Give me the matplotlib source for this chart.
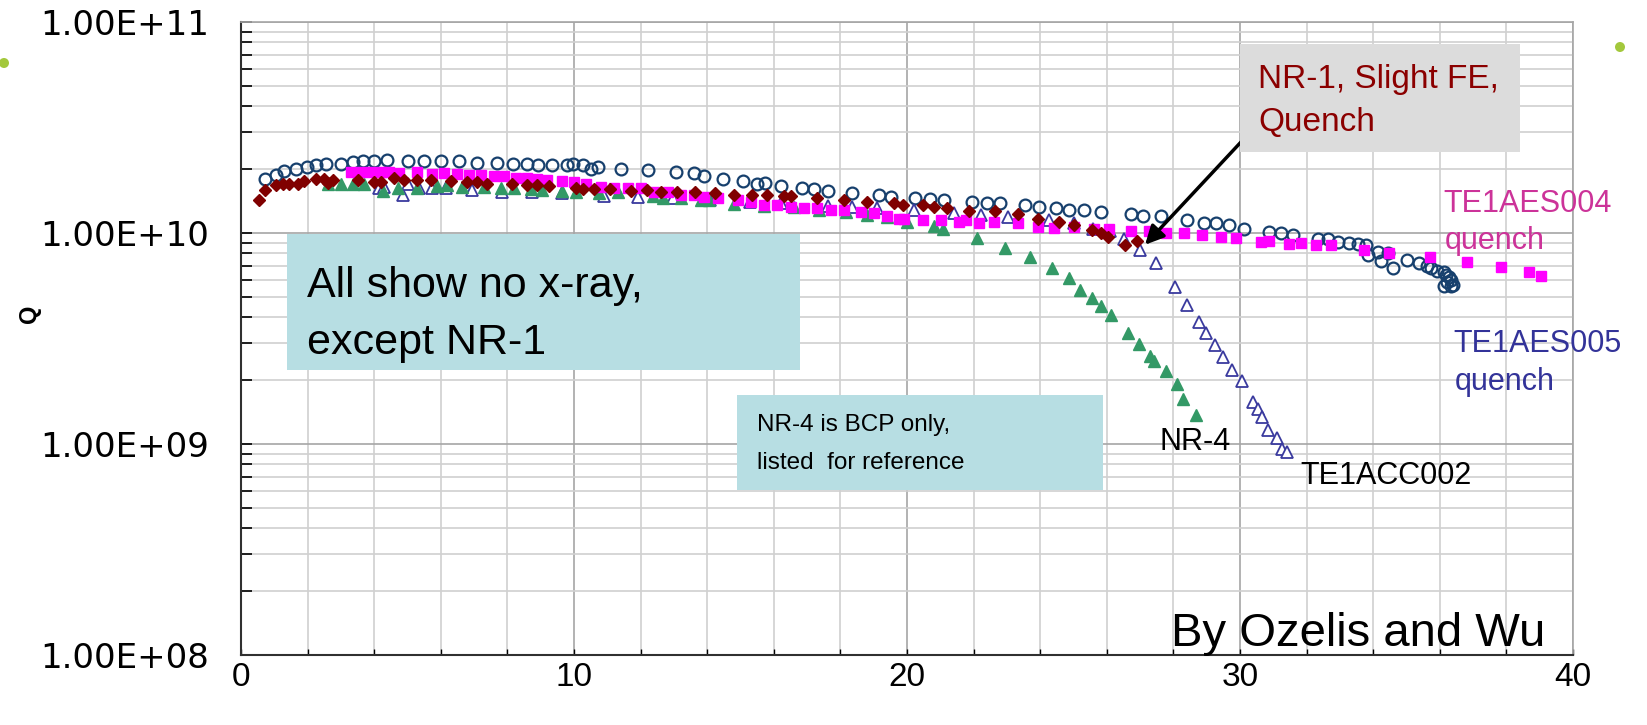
import matplotlib.pyplot as plt
from matplotlib.patches import Rectangle, Ellipse
from matplotlib.ticker import MultipleLocator, LogLocator, NullFormatter

plt.rcParams['font.family'] = ['Liberation Sans', 'DejaVu Sans']

# TE1AES005 (open circles)
aes005_x = [0.72, 1.05, 1.30, 1.65, 1.98, 2.25, 2.55, 3.00, 3.35, 3.65, 4.00, 4.38, 5.00, 5.50, 6.00, 6.55,
            7.10, 7.70, 8.18, 8.58, 8.93, 9.35, 9.80, 9.96, 10.26, 10.51, 10.71, 11.41, 12.21, 13.06, 13.61,
            13.89, 14.48, 15.08, 15.51, 15.74, 16.23, 16.86, 17.21, 17.63, 18.36, 19.16, 19.51, 20.24, 20.70,
            21.10, 21.95, 22.40, 22.80, 23.54, 23.97, 24.47, 24.87, 25.32, 25.82, 26.72, 27.10, 27.64, 28.42,
            28.92, 29.27, 29.67, 30.13, 30.88, 31.23, 31.58, 32.33, 32.63, 32.93, 33.28, 33.53, 33.78, 33.83,
            34.13, 34.43, 34.23, 34.58, 35.03, 35.38, 35.63, 35.73, 35.93, 36.13, 36.28, 36.23, 36.13, 36.33,
            36.20, 36.35, 36.40]
aes005_q = [1.81e10, 1.89e10, 1.97e10, 2.02e10, 2.06e10, 2.11e10, 2.13e10, 2.13e10, 2.17e10, 2.19e10, 2.19e10,
            2.21e10, 2.19e10, 2.19e10, 2.19e10, 2.19e10, 2.15e10, 2.15e10, 2.13e10, 2.13e10, 2.10e10, 2.10e10,
            2.11e10, 2.13e10, 2.09e10, 2.02e10, 2.06e10, 2.02e10, 1.98e10, 1.95e10, 1.92e10, 1.86e10, 1.81e10,
            1.76e10, 1.70e10, 1.73e10, 1.67e10, 1.64e10, 1.61e10, 1.58e10, 1.54e10, 1.51e10, 1.48e10, 1.46e10,
            1.45e10, 1.43e10, 1.41e10, 1.38e10, 1.38e10, 1.36e10, 1.33e10, 1.31e10, 1.28e10, 1.28e10, 1.26e10,
            1.23e10, 1.20e10, 1.20e10, 1.15e10, 1.12e10, 1.11e10, 1.09e10, 1.05e10, 1.01e10, 1.005e10, 9.79e9,
            9.33e9, 9.33e9, 9.10e9, 8.99e9, 8.87e9, 8.77e9, 7.87e9, 8.17e9, 8.02e9, 7.33e9, 6.81e9, 7.46e9,
            7.19e9, 6.98e9, 6.81e9, 6.64e9, 6.50e9, 6.18e9, 5.89e9, 5.58e9, 5.58e9, 6.30e9, 6.00e9, 5.70e9]

# TE1AES004 (magenta squares)
aes004_x = [3.3, 3.6, 3.9, 4.2, 4.45, 4.75, 5.3, 5.75, 6.1, 6.5, 6.85, 7.2, 7.6, 7.9, 8.25, 8.6, 8.9, 9.2, 9.65,
            10.01, 10.36, 10.81, 11.21, 11.61, 12.01, 12.41, 12.81, 13.21, 13.61, 13.91, 14.31, 14.91, 15.31,
            15.71, 16.11, 16.51, 16.91, 17.31, 17.71, 18.11, 18.61, 19.01, 19.41, 19.76, 19.92, 20.47, 21.02,
            21.57, 21.77, 22.17, 22.62, 23.32, 23.92, 24.42, 25.02, 25.62, 26.07, 26.72, 27.27, 27.77, 28.32,
            28.87, 29.42, 29.88, 30.63, 30.88, 31.48, 31.83, 32.28, 32.73, 33.73, 34.48, 35.71, 36.81, 37.83,
            38.68, 39.03]
aes004_q = [1.945e10, 1.945e10, 1.95e10, 1.95e10, 1.945e10, 1.93e10, 1.95e10, 1.91e10, 1.93e10, 1.90e10,
            1.88e10, 1.88e10, 1.86e10, 1.86e10, 1.83e10, 1.83e10, 1.80e10, 1.79e10, 1.77e10, 1.75e10, 1.71e10,
            1.66e10, 1.63e10, 1.63e10, 1.63e10, 1.57e10, 1.57e10, 1.51e10, 1.51e10, 1.48e10, 1.46e10, 1.43e10,
            1.41e10, 1.355e10, 1.355e10, 1.33e10, 1.32e10, 1.31e10, 1.29e10, 1.28e10, 1.26e10, 1.24e10, 1.20e10,
            1.17e10, 1.17e10, 1.15e10, 1.15e10, 1.13e10, 1.15e10, 1.11e10, 1.13e10, 1.11e10, 1.07e10, 1.06e10,
            1.07e10, 1.05e10, 1.04e10, 1.026e10, 1.026e10, 1.005e10, 9.95e9, 9.79e9, 9.62e9, 9.44e9, 9.10e9,
            9.20e9, 8.87e9, 8.99e9, 8.77e9, 8.77e9, 8.32e9, 8.07e9, 7.73e9, 7.28e9, 6.93e9, 6.50e9, 6.27e9]

# NR-1 (dark red diamonds)
nr1_x = [0.55, 0.72, 1.05, 1.25, 1.45, 1.70, 1.90, 2.25, 2.50, 2.60, 2.75, 3.50, 3.98, 4.20, 4.60, 4.88, 5.30,
         5.72, 6.32, 6.80, 7.10, 7.40, 8.15, 8.58, 8.90, 9.25, 10.06, 10.26, 10.61, 11.09, 11.71, 12.19, 12.61,
         13.09, 13.63, 14.23, 14.81, 15.36, 15.81, 16.31, 16.51, 17.31, 18.11, 18.81, 19.61, 19.87, 20.47,
         20.82, 21.20, 21.87, 22.64, 23.34, 23.94, 24.57, 25.02, 25.57, 25.82, 26.04, 26.54, 26.92]
nr1_q = [1.43e10, 1.60e10, 1.68e10, 1.70e10, 1.71e10, 1.70e10, 1.77e10, 1.80e10, 1.81e10, 1.72e10, 1.79e10,
         1.79e10, 1.75e10, 1.75e10, 1.83e10, 1.79e10, 1.79e10, 1.78e10, 1.77e10, 1.75e10, 1.75e10, 1.71e10,
         1.71e10, 1.68e10, 1.68e10, 1.67e10, 1.63e10, 1.61e10, 1.61e10, 1.61e10, 1.585e10, 1.60e10, 1.57e10,
         1.57e10, 1.57e10, 1.55e10, 1.51e10, 1.51e10, 1.51e10, 1.50e10, 1.50e10, 1.46e10, 1.43e10, 1.41e10,
         1.38e10, 1.355e10, 1.355e10, 1.33e10, 1.31e10, 1.27e10, 1.27e10, 1.23e10, 1.17e10, 1.13e10, 1.09e10,
         1.03e10, 1.005e10, 9.55e9, 8.77e9, 9.20e9]

# NR-4 (green filled triangles)
nr4_x = [2.62, 3.00, 3.35, 3.70, 4.25, 4.70, 5.30, 5.90, 6.20, 6.65, 7.30, 7.82, 8.20, 8.70, 9.05, 9.65, 10.06,
         10.76, 11.31, 12.36, 12.66, 13.21, 13.81, 14.06, 14.81, 15.71, 16.61, 17.36, 18.16, 18.81, 19.41,
         20.00, 20.82, 21.07, 22.10, 22.95, 23.70, 24.35, 24.87, 25.20, 25.55, 25.82, 26.12, 26.63, 26.98,
         27.30, 27.42, 27.78, 28.12, 28.30, 28.68]
nr4_q = [1.70e10, 1.71e10, 1.71e10, 1.70e10, 1.58e10, 1.63e10, 1.64e10, 1.67e10, 1.68e10, 1.66e10, 1.66e10,
         1.63e10, 1.63e10, 1.61e10, 1.60e10, 1.585e10, 1.57e10, 1.54e10, 1.57e10, 1.50e10, 1.46e10, 1.46e10,
         1.43e10, 1.43e10, 1.37e10, 1.34e10, 1.33e10, 1.28e10, 1.26e10, 1.22e10, 1.19e10, 1.13e10, 1.08e10,
         1.05e10, 9.44e9, 8.53e9, 7.67e9, 6.81e9, 6.11e9, 5.38e9, 4.92e9, 4.53e9, 4.10e9, 3.37e9, 2.99e9,
         2.61e9, 2.47e9, 2.22e9, 1.92e9, 1.63e9, 1.37e9]

# TE1ACC002 (open triangles)
acc002_x = [4.15, 4.30, 4.85, 5.00, 5.35, 5.75, 6.15, 6.95, 7.85, 8.75, 9.65, 10.91, 11.93, 12.96, 14.09,
            15.29, 16.21, 17.63, 18.36, 19.09, 20.22, 21.42, 22.22, 23.04, 24.27, 25.00, 25.60, 26.10, 26.52,
            27.00, 27.47, 28.05, 28.42, 28.78, 28.98, 29.25, 29.50, 29.75, 30.05, 30.40, 30.55, 30.65, 30.85,
            31.12, 31.25, 31.40]
acc002_q = [1.64e10, 1.66e10, 1.52e10, 1.70e10, 1.64e10, 1.64e10, 1.63e10, 1.60e10, 1.57e10, 1.57e10, 1.54e10,
            1.50e10, 1.48e10, 1.46e10, 1.43e10, 1.41e10, 1.38e10, 1.34e10, 1.33e10, 1.31e10, 1.28e10, 1.25e10,
            1.22e10, 1.19e10, 1.15e10, 1.11e10, 1.05e10, 1.026e10, 9.33e9, 8.29e9, 7.19e9, 5.55e9, 4.57e9,
            3.78e9, 3.34e9, 2.96e9, 2.59e9, 2.24e9, 1.99e9, 1.58e9, 1.46e9, 1.34e9, 1.16e9, 1.07e9, 9.46e8,
            9.20e8]

y_ticks = [1e8, 1e9, 1e10, 1e11]
y_tick_labels = ['1.00E+08', '1.00E+09', '1.00E+10', '1.00E+11']
x_ticks = [0, 10, 20, 30, 40]

W, H = 1647, 725
fig = plt.figure(figsize=(W / 100, H / 100), dpi=100)
ax = fig.add_axes([241 / W, 1 - 655 / H, (1573 - 241) / W, (655 - 22) / H])

def fp(px, py):
    # figure pixel (from top-left) -> figure fraction
    return px / W, 1 - py / H

# data
ax.plot(aes005_x, aes005_q, 'o', ls='none', mfc='none', mec='#17406d', ms=8.5, mew=1.6, zorder=3)
ax.plot(acc002_x, acc002_q, '^', ls='none', mfc='white', mec='#3a3a9e', ms=8.5, mew=1.3, zorder=4)
ax.plot(nr4_x, nr4_q, '^', ls='none', color='#339966', ms=8.5, zorder=4)
ax.plot(aes004_x, aes004_q, 's', ls='none', color='#ff00ff', ms=7.0, zorder=5)
ax.plot(nr1_x, nr1_q, 'D', ls='none', color='#800000', ms=6.0, zorder=6)

# axes setup
ax.set_yscale('log')
ax.set_xlim(0, 40)
ax.set_ylim(1e8, 1e11)
ax.set_xticks(x_ticks)
ax.xaxis.set_minor_locator(MultipleLocator(2))
ax.set_yticks(y_ticks)
ax.set_yticklabels(y_tick_labels, family='DejaVu Sans')
ax.yaxis.set_minor_locator(LogLocator(base=10, subs=range(2, 10)))
ax.yaxis.set_minor_formatter(NullFormatter())
ax.tick_params(axis='y', which='both', direction='in', length=8, width=1.2, labelsize=24.5, pad=23)
ax.tick_params(axis='x', which='both', direction='in', length=4, width=1.0, labelsize=24, pad=5)
ax.grid(which='major', color='#a6a6a6', lw=1.2)
ax.grid(which='minor', color='#d0d0d0', lw=1.2)
ax.set_axisbelow(True)
for s in ['left', 'bottom']:
    ax.spines[s].set_color('#303030')
    ax.spines[s].set_linewidth(1.5)
for s in ['top', 'right']:
    ax.spines[s].set_color('#a6a6a6')
    ax.spines[s].set_linewidth(1.2)

fig.text(*fp(29, 314), 'Q', rotation=90, ha='center', va='center', fontsize=17, fontweight='bold')

# boxes
x0, y0 = fp(287, 370)
fig.add_artist(Rectangle((x0, y0), (800 - 287) / W, (370 - 234) / H, transform=fig.transFigure,
                         facecolor='#b7dee3', edgecolor='none', zorder=5))
fig.text(*fp(307, 297), 'All show no x-ray,', fontsize=31, va='baseline', zorder=6)
fig.text(*fp(307, 354), 'except NR-1', fontsize=31, va='baseline', zorder=6)

x0, y0 = fp(737, 490)
fig.add_artist(Rectangle((x0, y0), (1103 - 737) / W, (490 - 395) / H, transform=fig.transFigure,
                         facecolor='#b7dee3', edgecolor='none', zorder=5))
fig.text(*fp(757, 431), 'NR-4 is BCP only,', fontsize=17.5, va='baseline', zorder=6)
fig.text(*fp(757, 469), 'listed  for reference', fontsize=17.5, va='baseline', zorder=6)

x0, y0 = fp(1240, 152)
fig.add_artist(Rectangle((x0, y0), (1520 - 1240) / W, (152 - 44) / H, transform=fig.transFigure,
                         facecolor='#dcdcdc', edgecolor='none', zorder=5))
fig.text(*fp(1258, 88), 'NR-1, Slight FE,', fontsize=24, color='#8b0000', va='baseline', zorder=6)
fig.text(*fp(1258, 131), 'Quench', fontsize=24, color='#8b0000', va='baseline', zorder=6)

ax.annotate('', xy=(27.15, 8.8e9), xycoords='data', xytext=(1241, H - 142), textcoords='figure pixels',
            arrowprops=dict(arrowstyle='-|>', lw=2.5, color='black', mutation_scale=28, shrinkA=0, shrinkB=0),
            zorder=7)

# series labels
fig.text(*fp(1443, 212), 'TE1AES004', fontsize=22, color='#cc3399', va='baseline')
fig.text(*fp(1445, 249), 'quench', fontsize=22, color='#cc3399', va='baseline')
fig.text(*fp(1453, 352), 'TE1AES005', fontsize=22, color='#333399', va='baseline')
fig.text(*fp(1455, 390), 'quench', fontsize=22, color='#333399', va='baseline')
fig.text(*fp(1160, 450), 'NR-4', fontsize=22, color='black', va='baseline')
fig.text(*fp(1300, 484), 'TE1ACC002', fontsize=22, color='black', va='baseline')
fig.text(*fp(1171, 646), 'By Ozelis and Wu', fontsize=34, color='black', va='baseline')

# slide bullets at the edges
for px, py in [(4, 63), (1620, 47)]:
    fig.add_artist(Ellipse(fp(px, py), 10 / W, 10 / H, transform=fig.transFigure,
                           facecolor='#a3c83c', edgecolor='none'))

fig.savefig('out.png', dpi=100)
